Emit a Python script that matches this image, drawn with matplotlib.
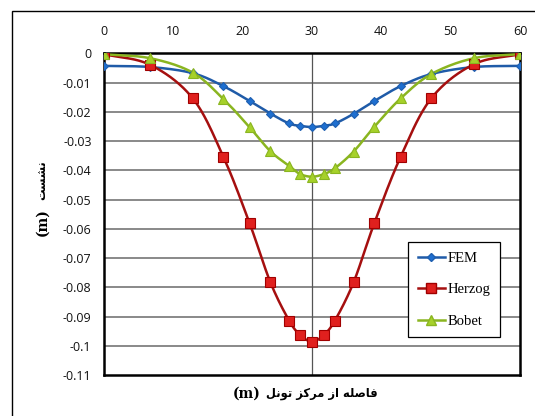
import matplotlib
matplotlib.use('Agg')
import numpy as np
import matplotlib.pyplot as plt
from matplotlib.patches import Rectangle

# distance from tunnel centre (m)
x_dist = [0, 6.7, 12.8, 17.2, 21, 24, 26.7, 28.3, 30, 31.7, 33.3, 36, 39, 42.8, 47.2, 53.3, 60]

# settlement (m)
fem = [-0.0043, -0.0047, -0.0068, -0.0112, -0.0163, -0.0206, -0.0240, -0.0248, -0.0252,
       -0.0248, -0.0240, -0.0207, -0.0163, -0.0112, -0.0071, -0.0047, -0.0043]
herzog = [-0.0003, -0.0040, -0.0154, -0.0353, -0.0581, -0.0783, -0.0914, -0.0963, -0.0986,
          -0.0963, -0.0914, -0.0783, -0.0580, -0.0353, -0.0154, -0.0038, -0.0003]
bobet = [-0.0003, -0.0017, -0.0066, -0.0156, -0.0253, -0.0335, -0.0385, -0.0413, -0.0422,
         -0.0413, -0.0393, -0.0336, -0.0251, -0.0154, -0.0071, -0.0017, -0.0003]

series_names = ['FEM', 'Herzog', 'Bobet']
x_ticks = [0, 10, 20, 30, 40, 50, 60]
y_ticks = [0, -0.01, -0.02, -0.03, -0.04, -0.05, -0.06, -0.07, -0.08, -0.09, -0.1, -0.11]

# Persian labels written in visual (left-to-right, pre-shaped) order
ylabel_fa = '\uFE96\uFEB4\uFEB8\uFEE7'                     # نشست
xlabel_fa = ('\uFEDE\uFEE7\uFEEE\uFE97' + ' ' +             # تونل
             '\uFEB0\uFB90\uFEAE\uFEE3' + ' ' +             # مرکز
             '\uFEAF\uFE8D' + ' ' +                         # از
             '\uFEEA\uFEE0\uFEBB\uFE8E\uFED3')              # فاصله


def smooth(xs, ys, n=20):
    # catmull-rom curve through the points, like excel's smoothed line
    xs = np.asarray(xs, float)
    ys = np.asarray(ys, float)
    px = np.concatenate([[2 * xs[0] - xs[1]], xs, [2 * xs[-1] - xs[-2]]])
    py = np.concatenate([[2 * ys[0] - ys[1]], ys, [2 * ys[-1] - ys[-2]]])
    ox, oy = [], []
    t = np.linspace(0, 1, n, endpoint=False)
    for i in range(1, len(px) - 2):
        for p, o in ((px, ox), (py, oy)):
            p0, p1, p2, p3 = p[i - 1], p[i], p[i + 1], p[i + 2]
            o.extend(0.5 * (2 * p1 + (-p0 + p2) * t + (2 * p0 - 5 * p1 + 4 * p2 - p3) * t ** 2
                            + (-p0 + 3 * p1 - 3 * p2 + p3) * t ** 3))
    ox.append(xs[-1])
    oy.append(ys[-1])
    return ox, oy


fig = plt.figure(figsize=(5.35, 4.16), dpi=100)
fig.patches.append(Rectangle((12 / 535, -0.2), 1.2, 0.2 + 1 - 11 / 416, transform=fig.transFigure,
                             fill=False, edgecolor='black', linewidth=1.0))
ax = fig.add_axes([104 / 535, 1 - 375 / 416, 416 / 535, 321.7 / 416])

styles = [
    dict(line='#1F5BA8', marker='D', mfc='#1E6FD0', mec='#1E5FB0', ms=4.5),
    dict(line='#A50F0F', marker='s', mfc='#E0201E', mec='#A00000', ms=6.5),
    dict(line='#8AB520', marker='^', mfc='#A6D12A', mec='#8AB520', ms=7),
]
for ys, name, st in zip([fem, herzog, bobet], series_names, styles):
    sx, sy = smooth(x_dist, ys)
    ax.plot(sx, sy, color=st['line'], linewidth=1.8, zorder=3)
    ax.plot(x_dist, ys, linestyle='none', marker=st['marker'], markersize=st['ms'],
            markerfacecolor=st['mfc'], markeredgecolor=st['mec'], markeredgewidth=0.8, zorder=4)
    ax.plot([], [], color=st['line'], linewidth=1.8, marker=st['marker'], markersize=st['ms'],
            markerfacecolor=st['mfc'], markeredgecolor=st['mec'], label=name)

ax.set_xlim(0, 60)
ax.set_ylim(-0.11, 0)
ax.set_xticks(x_ticks)
ax.set_yticks(y_ticks)
ax.set_yticklabels(['0' if v == 0 else ('%g' % v) for v in y_ticks])
ax.xaxis.tick_top()
ax.tick_params(length=0, labelsize=9)
ax.tick_params(axis='x', pad=11)
ax.tick_params(axis='y', pad=9)
for lab in ax.get_xticklabels() + ax.get_yticklabels():
    lab.set_fontfamily('Open Sans')
    lab.set_color('#111111')

for v in y_ticks[1:-1]:
    ax.axhline(v, color='#808080', linewidth=1.3, zorder=1)
ax.axvline(30, color='#555555', linewidth=0.9, zorder=1)
for s in ax.spines.values():
    s.set_linewidth(1.8)
    s.set_color('black')

leg = ax.legend(loc='upper left', bbox_to_anchor=(0.731, 0.413), borderaxespad=0,
                prop={'family': 'Liberation Serif', 'size': 10.5}, frameon=True, fancybox=False,
                edgecolor='black', framealpha=1, labelspacing=1.25, handlelength=1.9,
                handletextpad=0.15, borderpad=0.65)
leg.get_frame().set_linewidth(0.9)

# x axis title
fig.text(247 / 535, 1 - 394 / 416, '(m)', ha='center', va='center',
         fontsize=10, fontweight='bold', family=['DejaVu Serif'])
fig.text(322 / 535, 1 - 394 / 416, xlabel_fa, ha='center', va='center',
         fontsize=8.3, fontweight='bold', family=['DejaVu Sans'])
# y axis title
fig.text(42 / 535, 1 - 222 / 416, '(m)', ha='center', va='center', rotation=90,
         fontsize=10, fontweight='bold', family=['DejaVu Serif'])
fig.text(42 / 535, 1 - 180 / 416, ylabel_fa, ha='center', va='center', rotation=90,
         fontsize=8.3, fontweight='bold', family=['DejaVu Sans'])

fig.savefig('out.png', dpi=100)
